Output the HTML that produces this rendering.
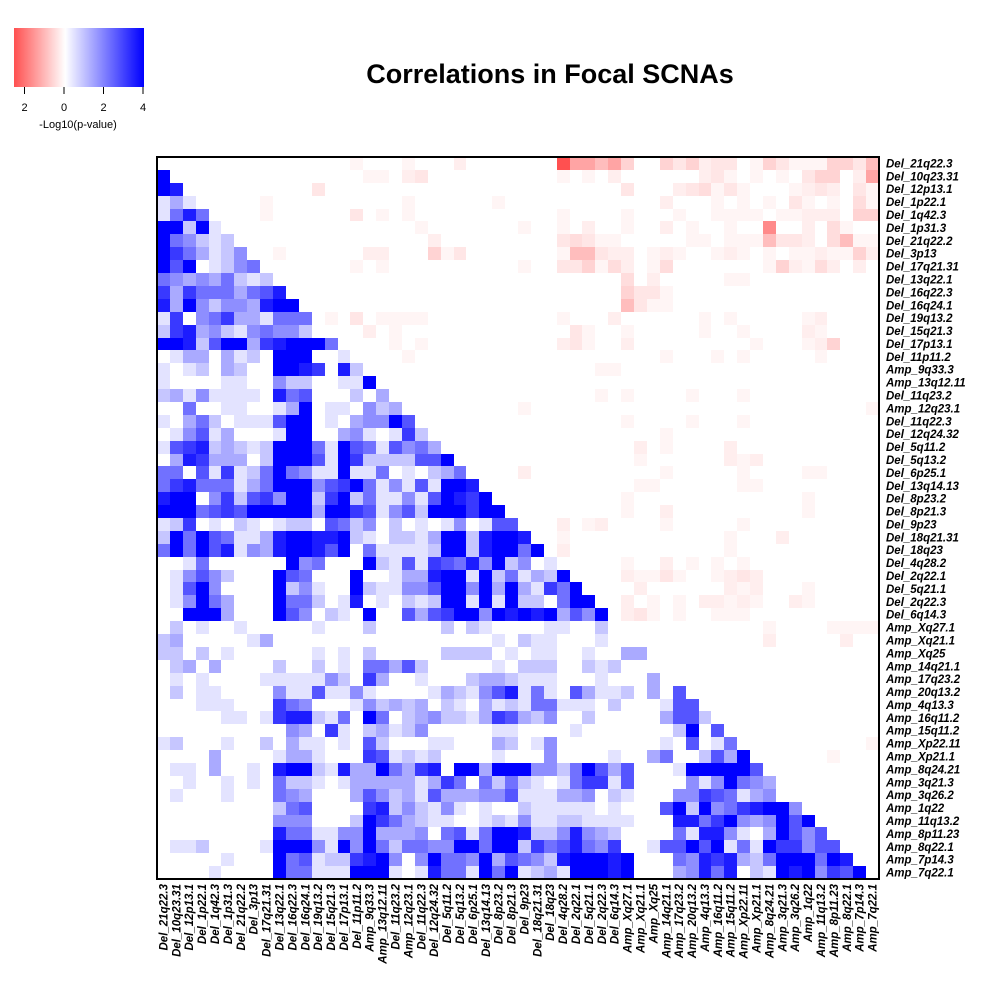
<!DOCTYPE html>
<html><head><meta charset="utf-8"><style>
html,body{margin:0;padding:0;background:#fff;}
svg{display:block;}
text{font-family:"Liberation Sans",Arial,sans-serif;}
</style></head><body>
<svg id="chart" width="1000" height="1000" xmlns="http://www.w3.org/2000/svg">
<defs>
<linearGradient id="lg" x1="0" x2="1" y1="0" y2="0">
<stop offset="0" stop-color="rgb(255,80,80)"/>
<stop offset="0.3939" stop-color="#fff"/>
<stop offset="1" stop-color="rgb(0,0,255)"/>
</linearGradient>
</defs>
<rect width="1000" height="1000" fill="#fff"/>
<text x="550" y="83" text-anchor="middle" font-size="27" font-weight="bold">Correlations in Focal SCNAs</text>
<g>
<rect x="14" y="28" width="130" height="59" fill="url(#lg)"/>
<g id="legendTicks"></g>
<text x="78" y="128" text-anchor="middle" font-size="11">-Log10(p-value)</text>
</g>
<g id="cells"></g>
<rect x="157" y="157" width="722" height="722" fill="none" stroke="#000" stroke-width="2"/>
<g id="rowLabels"></g>
<g id="colLabels"></g>
</svg>
<script>
const labels = ["Del_21q22.3","Del_10q23.31","Del_12p13.1","Del_1p22.1","Del_1q42.3","Del_1p31.3","Del_21q22.2","Del_3p13","Del_17q21.31","Del_13q22.1","Del_16q22.3","Del_16q24.1","Del_19q13.2","Del_15q21.3","Del_17p13.1","Del_11p11.2","Amp_9q33.3","Amp_13q12.11","Del_11q23.2","Amp_12q23.1","Del_11q22.3","Del_12q24.32","Del_5q11.2","Del_5q13.2","Del_6p25.1","Del_13q14.13","Del_8p23.2","Del_8p21.3","Del_9p23","Del_18q21.31","Del_18q23","Del_4q28.2","Del_2q22.1","Del_5q21.1","Del_2q22.3","Del_6q14.3","Amp_Xq27.1","Amp_Xq21.1","Amp_Xq25","Amp_14q21.1","Amp_17q23.2","Amp_20q13.2","Amp_4q13.3","Amp_16q11.2","Amp_15q11.2","Amp_Xp22.11","Amp_Xp21.1","Amp_8q24.21","Amp_3q21.3","Amp_3q26.2","Amp_1q22","Amp_11q13.2","Amp_8p11.23","Amp_8q22.1","Amp_7p14.3","Amp_7q22.1"];
// lower triangle: positive association levels 0-9 (digit/9*4 = -log10 p)
const lowerLevels = [
"",
"9",
"98",
"131",
"1585",
"99291",
"954212",
"9753124",
"96901245",
"543435212",
"7375553568",
"83942443899",
"170457331555",
"2783421454420",
"99826993789995",
"013303120999001",
"1012032009987082",
"10000110042200119",
"231411110856000203",
"0050011001390110423",
"10352011169901034496",
"014613000199003410172",
"1678232129995196516453",
"03873330299961972222669",
"550617125954119115010235",
"5785551359994679514161998",
"89904726749927925114169879",
"999567699999399761462999799",
"1270102101220652402010140166",
"29596511389988921022139928998",
"595968143899869051111299289959",
"0015000000945000921617658492401",
"01464200096500090013389919251329",
"016940000924100921144699493931759",
"0149530009552018010212991919220599",
"00999300096402109006367994989893649999",
"020100100000100020000020210000110020",
"2300000130000000000000000010211000100",
"22020100000010102000002222010110010033",
"023030000200201055362000001022200212000",
"0101000011111420730010002332111000100030320",
"02011000041161141000013214681510631120306",
"000111000754000142323021031215511102000166",
"0000011017882150950234221376324002000003662",
"00000000004307102312400000110000100000002906200",
"120001002031101062000110003201400000000106015",
"00003000013310007612120000100040000100350026390",
"011030010899218339537809939994425963600019999967",
"0010010105221013333313750525210157716000041495437",
"010001000543000364231633344611133402100044765134",
"00000000025600007824214101002111110100069294578994",
"000000000444000297532110012141122111100088579434969",
"00000000085511449333405615998224843200005188410396469",
"011200001999419495255449959927568547001669691519774669",
"0000010009561227894049554936542899989000548783259995989",
"00001000095511199910185519591231999890003485802198947699"
];
// upper triangle: negative association, per row "col:level" entries (level 0-8)
const upperLevels = [
"15:1 19:1 23:1.5 31:8 32:5 33:5 34:4 35:5 36:3 39:3 40:2 41:3 42:1.5 43:2 44:2 46:1 47:3 48:2 49:1 50:1 51:1 52:3 53:3 54:2 55:4",
"16:1 17:1 19:1.5 20:2 31:1 33:1 35:1.5 42:1.5 43:2 44:1 46:1 48:1 50:2 51:3 52:3 54:1.5 55:5",
"12:2 36:2 40:1.5 41:2 42:2.5 43:1 44:2 45:1 49:1 50:1.5 51:2 52:1.5 54:2 55:1",
"8:1 19:1 26:1 39:1.5 43:1 45:1 47:1 49:2 50:1 52:1 54:2.5 55:1",
"8:1 15:2 17:1 19:1 31:1 36:1 40:1 43:1 44:1 45:1 46:1 48:1 49:1 50:1.5 51:1.5 52:1.5 54:3 55:3",
"20:1 28:1 31:1 33:1.5 36:1 39:1.5 41:1 44:1 47:6 50:1.5 52:2.5 53:1",
"21:1.5 31:2 32:2.5 33:2 34:1 35:1 41:1 42:1 44:1 45:1 46:1 47:4 48:2 49:2 50:1.5 52:2.5 53:4 54:1 55:1",
"9:1 16:1.5 17:1.5 21:3 22:1 23:2 31:1 32:4 33:4 34:2 35:1.5 36:1.5 38:1 39:1.5 40:1 43:1 44:1.5 45:1 47:1 49:1 50:1 51:1.5 52:1 53:1 54:3 55:1.5",
"15:1 17:1 28:1 31:2 32:2 33:3 34:1 35:2.5 36:1.5 38:1 39:2.5 47:1 48:3 49:1.5 50:1 51:2.5 52:1.5 54:1.5",
"36:2.5 38:1.5 44:1 45:1",
"36:3 37:2 38:2 39:1",
"36:4 37:2 38:1 39:1",
"13:1 15:2 17:1 18:1 19:1 20:1 31:1 35:1.5 42:1 44:1 50:1 51:1.5",
"16:1.5 18:1 32:2 33:1 36:1 42:1 45:1 50:1.5 51:1",
"18:1 20:1 31:1.5 32:2 33:1 36:1.5 46:1 50:1 51:1.5 52:3",
"19:1 39:1 43:1 45:1 51:1",
"34:1 35:1",
"",
"34:1 36:1 41:1 45:1",
"28:1 55:1",
"36:1 41:1 45:1",
"39:1",
"37:1.5 39:1 44:1.5",
"37:1 44:1.5 45:1 46:1.5",
"28:1.5 39:1 45:1 50:1 51:1",
"37:1 38:1 45:1 46:1",
"36:1 50:1",
"36:1 39:1.5 50:1",
"31:1.5 33:1 34:1.5 39:1 45:1",
"31:1 44:1 48:1.5",
"31:1.5 44:1",
"36:1 39:1.5 41:1 43:1 45:1",
"36:1.5 37:1 38:1 39:2 40:1 43:1 44:1.5 45:2 46:1.5",
"37:1.5 44:1.5 45:1 46:1.5 50:1",
"36:1.5 38:1 40:1 42:1.5 43:1.5 44:1 45:1.5 46:1 49:1.5 50:1",
"36:1.5 37:2 38:1 40:1 43:1 44:1 45:1",
"47:1 52:1 53:1 54:1 55:1",
"47:1.5 53:1.5",
"","","","","","","",
"55:1",
"52:1",
"","","","","","","","",""
];
const legendTickVals = [-2,0,2,4];
const legendTickLabels = ["2","0","2","4"];

const NS="http://www.w3.org/2000/svg";
const N=labels.length, X0=157, Y0=157, W=722, cell=W/N;
function xPos(j){return X0+j*cell;}
function yPos(i){return Y0+i*cell;}
function color(v){
  if(v>=0){const f=Math.min(v/4,1);const c=Math.round(255*(1-f));return `rgb(${c},${c},255)`;}
  const f=Math.min(-v/2.6,1);const c=Math.round(255-175*f);return `rgb(255,${c},${c})`;
}
const vals=[];
for(let i=0;i<N;i++){vals.push(new Array(N).fill(0));}
for(let i=0;i<N;i++){
  const s=lowerLevels[i]||"";
  for(let j=0;j<i && j<s.length;j++){vals[i][j]=(+s[j])/9*4;}
  const u=(upperLevels[i]||"").trim();
  if(u){u.split(/\s+/).forEach(p=>{const [c,l]=p.split(':');const j=+c;if(j>i)vals[i][j]=-2.6*Math.pow((+l)/8,1.4);});}
}
const cg=document.getElementById('cells');
for(let i=0;i<N;i++)for(let j=0;j<N;j++){
  const v=vals[i][j]; if(v===0) continue;
  const r=document.createElementNS(NS,'rect');
  
  
  const x0=Math.round(xPos(j)),x1=Math.round(xPos(j+1)),y0=Math.round(yPos(i)),y1=Math.round(yPos(i+1));
  r.setAttribute('x',x0);r.setAttribute('y',y0);r.setAttribute('width',x1-x0);r.setAttribute('height',y1-y0);
  r.setAttribute('fill',color(v));
  cg.appendChild(r);
}
const rl=document.getElementById('rowLabels'), cl=document.getElementById('colLabels');
labels.forEach((lab,i)=>{
  const t=document.createElementNS(NS,'text');
  
  
  t.setAttribute('x',886);t.setAttribute('y',yPos(i)+cell/2+4);
  t.setAttribute('font-size','11.5');t.setAttribute('font-weight','bold');t.setAttribute('font-style','italic');
  t.textContent=lab; rl.appendChild(t);
  const c=document.createElementNS(NS,'text');
  
  
  const cx=xPos(i)+cell/2+4, cy=884;
  c.setAttribute('x',cx);c.setAttribute('y',cy);c.setAttribute('text-anchor','end');
  c.setAttribute('transform',`rotate(-90 ${cx} ${cy})`);
  c.setAttribute('font-size','11.5');c.setAttribute('font-weight','bold');c.setAttribute('font-style','italic');
  c.textContent=lab; cl.appendChild(c);
});
const lt=document.getElementById('legendTicks');
function legX(v){return 64+v*19.75;}
legendTickVals.forEach((v,k)=>{
  const l=document.createElementNS(NS,'line');
  
  
  l.setAttribute('x1',legX(v));l.setAttribute('x2',legX(v));l.setAttribute('y1',87);l.setAttribute('y2',94);
  l.setAttribute('stroke','#000'); lt.appendChild(l);
  const t=document.createElementNS(NS,'text');
  
  
  t.setAttribute('x',legX(v));t.setAttribute('y',111);t.setAttribute('text-anchor','middle');t.setAttribute('font-size','11');
  t.textContent=legendTickLabels[k]; lt.appendChild(t);
});
</script>
</body></html>
